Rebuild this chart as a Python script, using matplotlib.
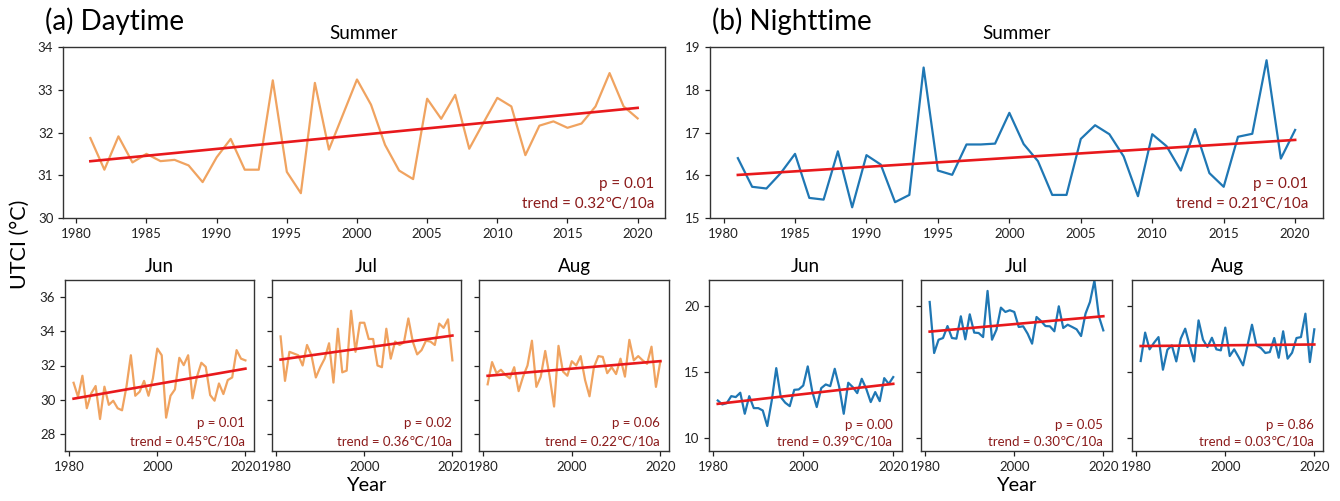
import matplotlib.pyplot as plt
import numpy as np

plt.rcParams['font.family'] = ['Lato', 'DejaVu Sans']

# ---- data (UTCI, degC) ----
years = np.arange(1981, 2021)

day_summer = [31.87, 31.13, 31.91, 31.30, 31.50, 31.33, 31.36, 31.23, 30.84, 31.42,
              31.85, 31.13, 31.13, 33.22, 31.08, 30.58, 33.16, 31.60, 32.42, 33.24,
              32.65, 31.71, 31.11, 30.91, 32.79, 32.32, 32.88, 31.62, 32.22, 32.81,
              32.61, 31.47, 32.16, 32.26, 32.11, 32.21, 32.61, 33.39, 32.61, 32.33]
day_jun = [30.99, 30.17, 31.40, 29.50, 30.37, 30.80, 28.87, 30.76, 29.70, 29.94,
           29.50, 29.38, 30.76, 32.60, 30.23, 30.47, 31.10, 30.23, 31.24, 32.99,
           32.60, 28.95, 30.23, 30.60, 32.45, 32.02, 32.60, 30.08, 31.34, 32.16,
           31.92, 30.27, 29.94, 30.95, 30.33, 31.15, 31.30, 32.90, 32.40, 32.30]
day_jul = [33.70, 31.10, 32.80, 32.70, 32.60, 32.00, 33.20, 32.60, 31.30, 31.90,
           32.40, 33.30, 31.00, 34.15, 31.60, 31.70, 35.20, 32.80, 34.50, 34.50,
           33.55, 33.55, 32.00, 31.90, 34.15, 32.40, 33.40, 33.20, 33.35, 34.75,
           33.40, 32.65, 32.90, 33.45, 33.40, 33.20, 34.45, 34.20, 34.70, 32.30]
day_aug = [30.90, 32.20, 31.55, 31.75, 31.45, 31.25, 31.90, 30.50, 31.35, 32.00,
           33.45, 30.75, 31.35, 32.85, 31.35, 29.60, 33.15, 31.65, 31.40, 32.25,
           32.00, 32.55, 31.15, 30.20, 31.90, 32.55, 32.50, 31.55, 31.90, 31.50,
           32.40, 31.35, 33.50, 32.30, 32.55, 32.30, 32.10, 33.10, 30.75, 32.25]

night_summer = [16.40, 15.73, 15.69, 16.05, 16.50, 15.47, 15.43, 16.56, 15.25, 16.47,
                16.25, 15.37, 15.54, 18.52, 16.11, 16.01, 16.72, 16.72, 16.74, 17.46,
                16.73, 16.33, 15.54, 15.54, 16.85, 17.17, 16.96, 16.44, 15.51, 16.96,
                16.68, 16.11, 17.08, 16.05, 15.73, 16.90, 16.97, 18.69, 16.39, 17.06]
night_jun = [12.84, 12.54, 12.64, 13.17, 13.10, 13.43, 11.83, 13.17, 12.26, 12.26,
             12.08, 10.90, 12.84, 15.30, 13.10, 12.67, 12.41, 13.65, 13.68, 13.98,
             15.43, 13.53, 12.34, 13.78, 14.06, 13.93, 15.25, 13.86, 11.83, 14.19,
             13.86, 13.40, 14.49, 13.73, 12.72, 13.48, 12.79, 14.54, 14.10, 14.62]
night_jul = [20.33, 16.45, 17.46, 17.59, 18.50, 17.59, 17.54, 19.24, 17.49, 19.39,
             18.00, 17.97, 17.66, 21.17, 17.46, 18.22, 19.90, 19.57, 19.70, 19.57,
             18.43, 18.48, 17.92, 17.16, 19.19, 18.88, 18.50, 18.48, 18.10, 20.00,
             18.35, 18.60, 18.43, 18.25, 17.74, 19.44, 20.33, 21.95, 19.24, 18.17]
night_aug = [15.84, 18.00, 16.73, 17.23, 17.66, 15.18, 16.70, 17.03, 15.81, 17.54,
             18.30, 17.03, 15.81, 18.93, 17.46, 16.90, 17.61, 16.73, 16.65, 18.38,
             16.22, 16.73, 16.14, 15.51, 17.03, 18.60, 17.03, 16.83, 16.45, 16.52,
             17.59, 16.09, 18.10, 16.02, 16.47, 17.59, 17.66, 19.44, 15.76, 18.25]

months = ['Jun', 'Jul', 'Aug']
# summer, Jun, Jul, Aug
day_p = ['0.01', '0.01', '0.02', '0.06']
day_trend = ['0.32', '0.45', '0.36', '0.22']
night_p = ['0.01', '0.00', '0.05', '0.86']
night_trend = ['0.21', '0.39', '0.30', '0.03']

day_color = '#F0A360'
night_color = '#1f77b4'
fit_color = '#E8191C'
txt_color = '#8B1A1A'

W, H = 1340, 501
fig = plt.figure(figsize=(W / 100, H / 100), dpi=100)


def add_ax(l, t, r, b):
    return fig.add_axes([l / W, 1 - b / H, (r - l) / W, (b - t) / H])


def draw(ax, y, color, p, tr, fs, px, py_p, py_t):
    y = np.array(y)
    ax.plot(years, y, color=color, lw=1.6)
    # trend line: reported slope (per 10 years) through the series mean
    k = float(tr) / 10
    ax.plot(years, y.mean() + k * (years - years.mean()), color=fit_color, lw=1.9)
    ax.text(px, py_p, 'p = ' + p, transform=ax.transAxes, ha='right', va='center',
            color=txt_color, fontsize=fs)
    ax.text(px, py_t, 'trend = ' + tr + '℃/10a', transform=ax.transAxes, ha='right',
            va='center', color=txt_color, fontsize=fs)
    for s in ax.spines.values():
        s.set_color('#333333')
        s.set_linewidth(1.0)
    ax.tick_params(labelsize=9.5, length=3.5, width=0.9, colors='#222222')


# ---- top summer panels ----
ax_d = add_ax(63, 47, 665, 218)
draw(ax_d, day_summer, day_color, day_p[0], day_trend[0], 11, 0.982, 0.2, 0.082)
ax_d.set_ylim(30, 34)
ax_d.set_yticks([30, 31, 32, 33, 34])
ax_d.set_xticks(range(1980, 2021, 5))
ax_d.set_title('Summer', fontsize=13.5, pad=6)

ax_n = add_ax(710, 47, 1323, 218)
draw(ax_n, night_summer, night_color, night_p[0], night_trend[0], 11, 0.976, 0.2, 0.082)
ax_n.set_ylim(15, 19)
ax_n.set_yticks([15, 16, 17, 18, 19])
ax_n.set_xticks(range(1980, 2021, 5))
ax_n.set_title('Summer', fontsize=13.5, pad=6)

# ---- monthly panels ----
day_month_data = [day_jun, day_jul, day_aug]
night_month_data = [night_jun, night_jul, night_aug]
day_cols = [(65, 254), (272, 461), (479, 669)]
night_cols = [(709, 902), (921, 1112), (1132, 1323)]

for i in range(3):
    ax = add_ax(day_cols[i][0], 280, day_cols[i][1], 451)
    draw(ax, day_month_data[i], day_color, day_p[i + 1], day_trend[i + 1], 9.5, 0.95, 0.165, 0.055)
    ax.set_ylim(27, 37)
    ax.set_yticks([28, 30, 32, 34, 36])
    ax.set_xticks([1980, 2000, 2020])
    ax.set_title(months[i], fontsize=13.5, pad=6)
    if i > 0:
        ax.set_yticklabels([])
    if i == 1:
        ax.set_xlabel('Year', fontsize=14.5, labelpad=3)

    ax = add_ax(night_cols[i][0], 280, night_cols[i][1], 451)
    draw(ax, night_month_data[i], night_color, night_p[i + 1], night_trend[i + 1], 9.5, 0.95, 0.15, 0.055)
    ax.set_ylim(9, 22)
    ax.set_yticks([10, 15, 20])
    ax.set_xticks([1980, 2000, 2020])
    ax.set_title(months[i], fontsize=13.5, pad=6)
    if i > 0:
        ax.set_yticklabels([])
    if i == 1:
        ax.set_xlabel('Year', fontsize=14.5, labelpad=3)

fig.text(45 / W, 1 - 21 / H, '(a) Daytime', fontsize=20, va='center', ha='left')
fig.text(712 / W, 1 - 21 / H, '(b) Nighttime', fontsize=20, va='center', ha='left')
fig.text(20 / W, 1 - 244 / H, 'UTCI (°C)', fontsize=15.5, rotation=90, va='center', ha='center')

fig.savefig('out.png', dpi=100)
